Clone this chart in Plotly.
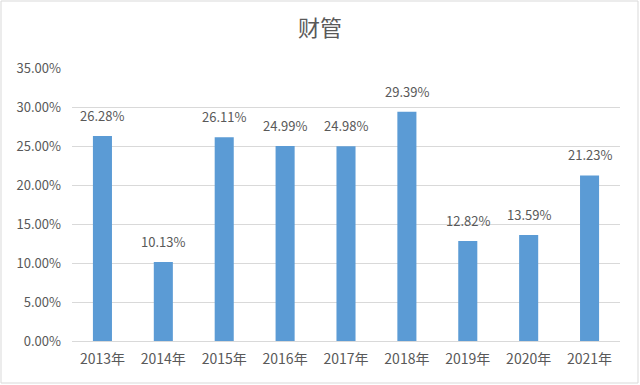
import plotly.graph_objects as go

categories = ["2013年", "2014年", "2015年", "2016年", "2017年", "2018年", "2019年", "2020年", "2021年"]
values = [0.2628, 0.1013, 0.2611, 0.2499, 0.2498, 0.2939, 0.1282, 0.1359, 0.2123]
title_text = "财管"

W, H = 640, 385
L, R, T, B = 72, 20, 68, 44
pw, ph = W - L - R, H - T - B

font_family = "Noto Sans CJK SC, Noto Sans, sans-serif"
gray = "#595959"

fig = go.Figure(go.Bar(
    x=categories,
    y=values,
    marker=dict(color="#5B9BD5", line=dict(width=0)),
    width=0.313,
    hoverinfo="skip",
))

for c, v in zip(categories, values):
    fig.add_annotation(x=c, y=v, text=f"{v*100:.2f}%", showarrow=False,
                       yanchor="bottom", yshift=9,
                       font=dict(size=13, color=gray, family=font_family))

def px_x(x):
    return (x - L) / pw

def px_y(y):
    return (H - B - y) / ph

fig.update_layout(
    width=W, height=H,
    margin=dict(l=L, r=R, t=T, b=B),
    paper_bgcolor="white",
    plot_bgcolor="white",
    title=dict(text=title_text, x=0.5, xanchor="center", y=1 - 28 / H, yanchor="middle",
               font=dict(size=22, color=gray, family=font_family)),
    font=dict(family=font_family, color=gray, size=13),
    showlegend=False,
    xaxis=dict(showgrid=False, showline=True, linecolor="#D9D9D9", linewidth=1,
               ticks="", tickfont=dict(size=14, color=gray), ticklabelstandoff=5),
    yaxis=dict(range=[0, 0.35], dtick=0.05, tickformat=".2%", showgrid=True,
               gridcolor="#D9D9D9", gridwidth=1, zeroline=False, showline=False,
               ticks="", tickfont=dict(size=13, color=gray), ticklabelstandoff=10),
    shapes=[dict(type="rect", xref="paper", yref="paper",
                 x0=px_x(1), x1=px_x(638), y0=px_y(383), y1=px_y(1),
                 line=dict(color="#D9D9D9", width=1), layer="below")],
)

fig.write_html("out.html", config={"displayModeBar": False},
               post_script="document.body.style.margin='0';document.body.style.overflow='hidden';")
